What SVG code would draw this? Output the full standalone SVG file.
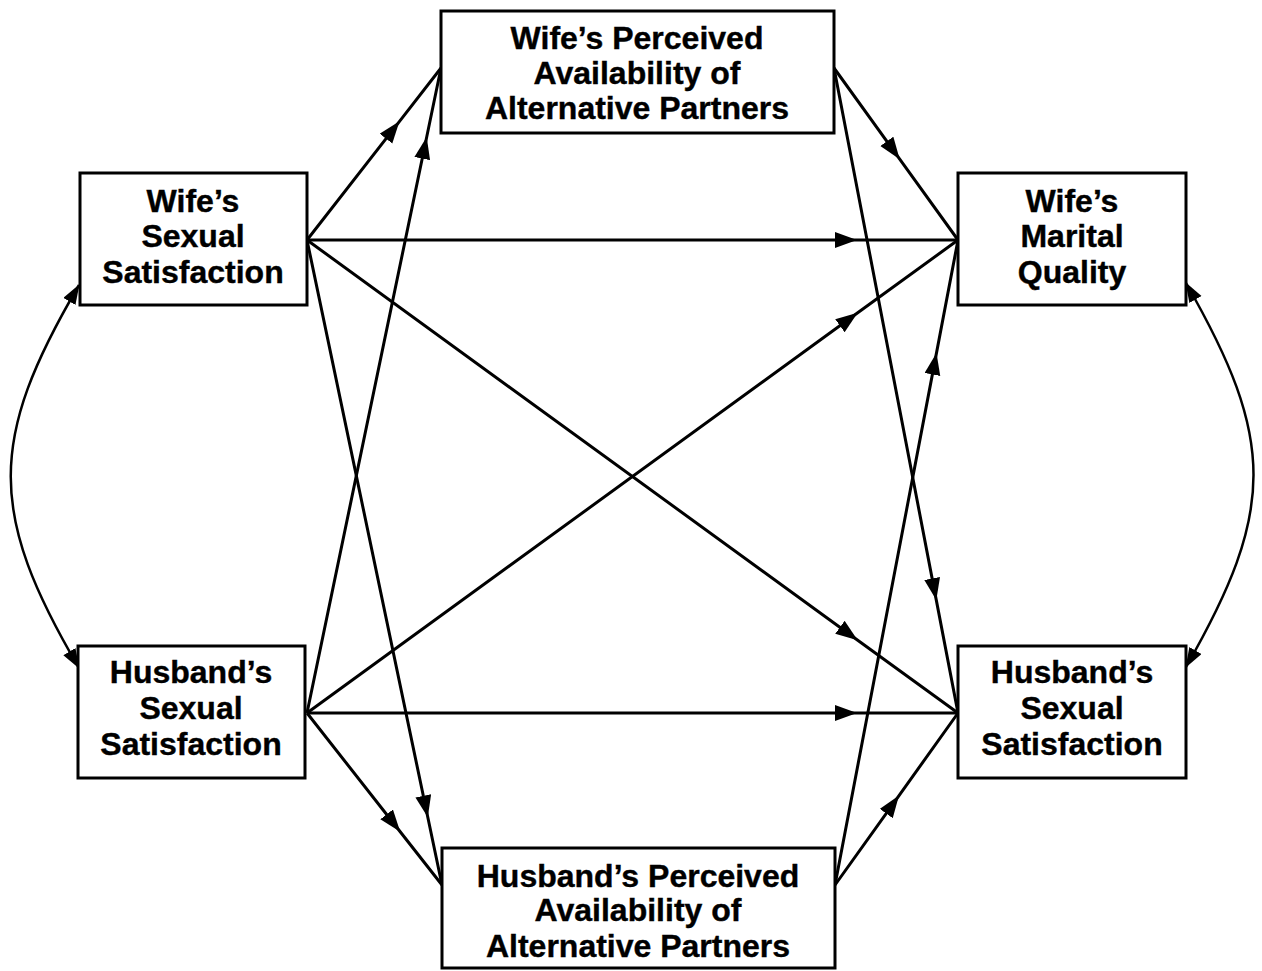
<svg xmlns="http://www.w3.org/2000/svg" width="1262" height="971" viewBox="0 0 1262 971">
<style>
.box{fill:#fff;stroke:#000;stroke-width:3}
.lbl{font-family:"Liberation Sans",Arial,sans-serif;font-weight:bold;font-size:32px;text-anchor:middle;fill:#000;stroke:#000;stroke-width:0.4}
.ln{fill:none;stroke:#000;stroke-width:3;marker-mid:url(#ah)}
.cv{fill:none;stroke:#000;stroke-width:2.5;marker-start:url(#ae);marker-end:url(#ae)}
</style>
<defs>
<marker id="ah" markerUnits="userSpaceOnUse" markerWidth="24" markerHeight="18" refX="22" refY="8" orient="auto" viewBox="0 0 24 18">
<path d="M0,0 L22,8 L0,16 z" fill="#000"/>
</marker>
<marker id="ae" markerUnits="userSpaceOnUse" markerWidth="22" markerHeight="16" refX="19" refY="7" orient="auto-start-reverse" viewBox="0 0 22 16">
<path d="M0,0 L20,7 L0,14 z" fill="#000"/>
</marker>
</defs>
<rect width="1262" height="971" fill="#fff"/>
<g id="connectors">
<path class="ln" d="M307,240 L399.5,121.3 L441,68"/>
<path class="ln" d="M307,713 L426.7,137 L441,68"/>
<path class="ln" d="M307,240 L857,240 L958,240"/>
<path class="ln" d="M307,240 L857.7,640.2 L958,713"/>
<path class="ln" d="M307,240 L427.8,817.3 L442,885"/>
<path class="ln" d="M307,713 L857.7,312.8 L958,240"/>
<path class="ln" d="M307,713 L857,713 L958,713"/>
<path class="ln" d="M307,713 L400.2,831.7 L442,885"/>
<path class="ln" d="M834,68 L899.7,159.2 L958,240"/>
<path class="ln" d="M834,68 L936.3,600.1 L958,713"/>
<path class="ln" d="M835,885 L936.5,352.9 L958,240"/>
<path class="ln" d="M835,885 L899,795.6 L958,713"/>
<path class="cv" d="M79,285 C-12,440 -12,513 79,668"/>
<path class="cv" d="M1186,283 C1276,440 1276,510 1186,667"/>
</g>
<g id="wife-sexual-satisfaction">
<rect class="box" x="80" y="173" width="227" height="132"/>
<text class="lbl" x="193" y="212">Wife’s</text>
<text class="lbl" x="193" y="247">Sexual</text>
<text class="lbl" x="193" y="283">Satisfaction</text>
</g>
<g id="husband-sexual-satisfaction-left">
<rect class="box" x="78" y="646" width="227" height="132"/>
<text class="lbl" x="191" y="683">Husband’s</text>
<text class="lbl" x="191" y="719">Sexual</text>
<text class="lbl" x="191" y="755">Satisfaction</text>
</g>
<g id="wife-perceived-alternatives">
<rect class="box" x="441" y="11" width="393" height="122"/>
<text class="lbl" x="637" y="49">Wife’s Perceived</text>
<text class="lbl" x="637" y="84">Availability of</text>
<text class="lbl" x="637" y="119">Alternative Partners</text>
</g>
<g id="husband-perceived-alternatives">
<rect class="box" x="442" y="848" width="393" height="120"/>
<text class="lbl" x="638" y="887">Husband’s Perceived</text>
<text class="lbl" x="638" y="921">Availability of</text>
<text class="lbl" x="638" y="957">Alternative Partners</text>
</g>
<g id="wife-marital-quality">
<rect class="box" x="958" y="173" width="228" height="132"/>
<text class="lbl" x="1072" y="212">Wife’s</text>
<text class="lbl" x="1072" y="247">Marital</text>
<text class="lbl" x="1072" y="283">Quality</text>
</g>
<g id="husband-sexual-satisfaction-right">
<rect class="box" x="958" y="646" width="228" height="132"/>
<text class="lbl" x="1072" y="683">Husband’s</text>
<text class="lbl" x="1072" y="719">Sexual</text>
<text class="lbl" x="1072" y="755">Satisfaction</text>
</g>
</svg>
